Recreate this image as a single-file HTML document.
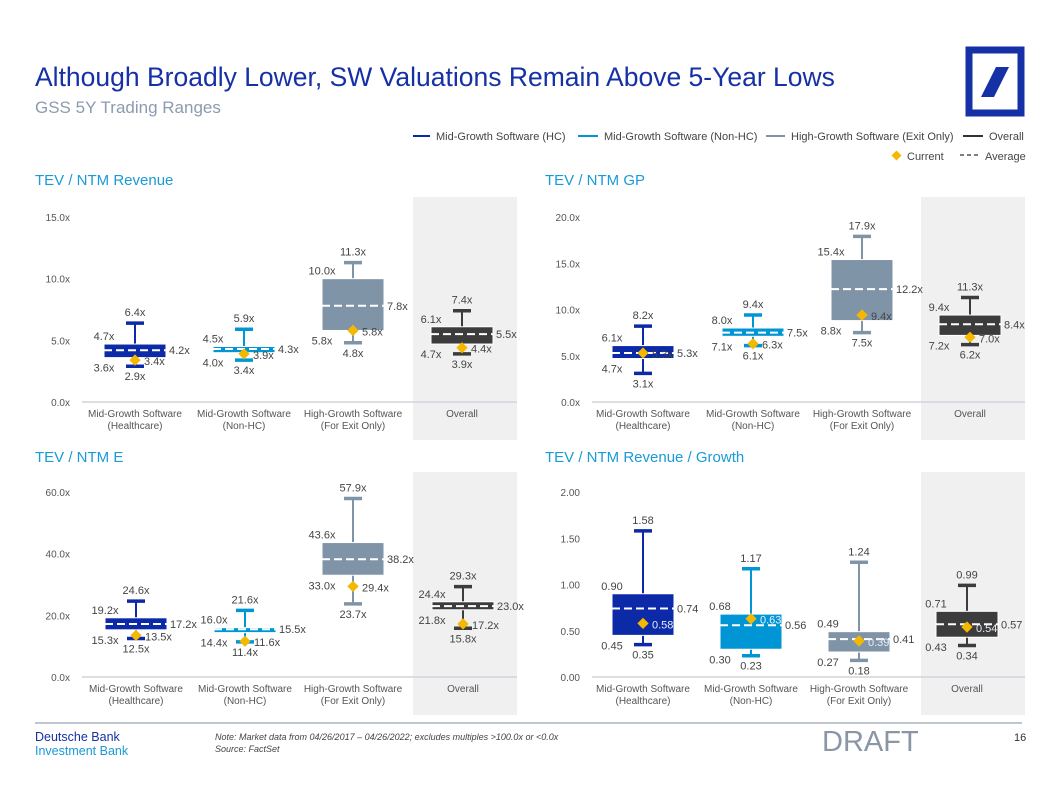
<!DOCTYPE html>
<html><head><meta charset="utf-8">
<style>
body{margin:0;background:#fff;width:1057px;height:796px;overflow:hidden;font-family:"Liberation Sans",sans-serif;}
svg{position:absolute;left:0;top:0}
</style></head>
<body>
<svg id="s" width="1057" height="796" xmlns="http://www.w3.org/2000/svg" font-family="Liberation Sans, sans-serif">
<text x="35" y="86" font-size="26.5" fill="#1630a5">Although Broadly Lower, SW Valuations Remain Above 5-Year Lows</text>
<text x="35" y="113" font-size="17" fill="#8c9bb0">GSS 5Y Trading Ranges</text>
<g>
<rect x="969" y="50" width="52" height="63" fill="none" stroke="#1630a5" stroke-width="7"/>
<polygon points="996,67 1009,67 994,97 981,97" fill="#1630a5"/>
</g>
<g font-size="11" fill="#444">
<line x1="413" y1="136" x2="430" y2="136" stroke="#0c2aa8" stroke-width="2"/><text x="436" y="140">Mid-Growth Software (HC)</text>
<line x1="578" y1="136" x2="598" y2="136" stroke="#0096d6" stroke-width="2"/><text x="604" y="140">Mid-Growth Software (Non-HC)</text>
<line x1="766" y1="136" x2="785" y2="136" stroke="#8094a8" stroke-width="2"/><text x="791" y="140">High-Growth Software (Exit Only)</text>
<line x1="963" y1="136" x2="983" y2="136" stroke="#333" stroke-width="2"/><text x="989" y="140">Overall</text>
<rect x="893" y="152" width="7" height="7" fill="#f5b800" transform="rotate(45 896.5 155.5)"/><text x="907" y="160">Current</text>
<line x1="960" y1="155" x2="980" y2="155" stroke="#555" stroke-width="1.5" stroke-dasharray="4,3"/><text x="985" y="160">Average</text>
</g>
<text x="35" y="185" font-size="15" fill="#1a9ad6">TEV / NTM Revenue</text>
<text x="545" y="185" font-size="15" fill="#1a9ad6">TEV / NTM GP</text>
<text x="35" y="462" font-size="15" fill="#1a9ad6">TEV / NTM E</text>
<text x="545" y="462" font-size="15" fill="#1a9ad6">TEV / NTM Revenue / Growth</text>
<g id="charts"></g>
<line x1="35" y1="723" x2="1022" y2="723" stroke="#a8b4c0" stroke-width="1.5"/>
<text x="35" y="741" font-size="12.5" fill="#1630a5">Deutsche Bank</text>
<text x="35" y="755" font-size="12.5" fill="#1a9ad6">Investment Bank</text>
<text x="215" y="740" font-size="9" font-style="italic" fill="#444">Note: Market data from 04/26/2017 – 04/26/2022; excludes multiples &gt;100.0x or &lt;0.0x</text>
<text x="215" y="752" font-size="9" font-style="italic" fill="#444">Source: FactSet</text>
<text x="822" y="751" font-size="29" fill="#8a96a4">DRAFT</text>
<text x="1014" y="741" font-size="11" fill="#333">16</text>
</svg>
<script>
const categories = [["Mid-Growth Software","(Healthcare)"],["Mid-Growth Software","(Non-HC)"],["High-Growth Software","(For Exit Only)"],["Overall",""]];
const revMax=[6.4,5.9,11.3,7.4], revQ3=[4.7,4.5,10.0,6.1], revAvg=[4.2,4.3,7.8,5.5], revQ1=[3.6,4.0,5.8,4.7], revMin=[2.9,3.4,4.8,3.9], revCur=[3.4,3.9,5.8,4.4];
const revTicks=[0,5,10,15];
const gpMax=[8.2,9.4,17.9,11.3], gpQ3=[6.1,8.0,15.4,9.4], gpAvg=[5.3,7.5,12.2,8.4], gpQ1=[4.7,7.1,8.8,7.2], gpMin=[3.1,6.1,7.5,6.2], gpCur=[5.3,6.3,9.4,7.0];
const gpTicks=[0,5,10,15,20];
const eMax=[24.6,21.6,57.9,29.3], eQ3=[19.2,16.0,43.6,24.4], eAvg=[17.2,15.5,38.2,23.0], eQ1=[15.3,14.4,33.0,21.8], eMin=[12.5,11.4,23.7,15.8], eCur=[13.5,11.6,29.4,17.2];
const eTicks=[0,20,40,60];
const gMax=[1.58,1.17,1.24,0.99], gQ3=[0.90,0.68,0.49,0.71], gAvg=[0.74,0.56,0.41,0.57], gQ1=[0.45,0.30,0.27,0.43], gMin=[0.35,0.23,0.18,0.34], gCur=[0.58,0.63,0.39,0.54];
const gTicks=[0,0.5,1,1.5,2];

const colors=["#0c2aa8","#0096d6","#8094a8","#3c3c3c"];
const NS="http://www.w3.org/2000/svg";
const root=document.getElementById('charts');
function mk(tag,attrs,parent){const e=document.createElementNS(NS,tag);for(const k in attrs)e.setAttribute(k,attrs[k]);parent.appendChild(e);return e;}
function txt(s,attrs,parent){const e=mk('text',attrs,parent);e.textContent=s;return e;}

function drawPanel(name,ox,top,bottom,ticks,mx,q3,av,q1,mn,cur,dec,suf,centers,whiteCur,bgx){
  const g=mk('g',{},root);
  
  
  const y0=top+22, y1=top+207;
  const vmax=ticks[ticks.length-1];
  const y=v=>y1-(v/vmax)*(y1-y0);
  const bg=mk('rect',{x:bgx,y:top+2,width:104,height:bottom-top-2,fill:'#f0f0f0'},g);
  
  
  const base=mk('line',{x1:ox+52,x2:bgx+104,y1:y1,y2:y1,stroke:'#d0d4dc','stroke-width':1.5},g);
  
  
  ticks.forEach(t=>{
    const tl=txt(t.toFixed(dec)+suf,{x:ox+40,y:y(t)+4,'font-size':10,fill:'#555','text-anchor':'end'},g);
    
    
  });
  const fmt=v=>v.toFixed(dec)+suf;
  for(let i=0;i<4;i++){
    const cx=ox+centers[i], w=62, L=cx-w/2, R=cx+w/2, c=colors[i];
    const bx=mk('g',{},g);
    
    
    mk('line',{x1:cx,x2:cx,y1:y(mx[i]),y2:y(mn[i]),stroke:c,'stroke-width':2},bx);
    mk('line',{x1:cx-9,x2:cx+9,y1:y(mx[i]),y2:y(mx[i]),stroke:c,'stroke-width':3.5},bx);
    mk('line',{x1:cx-9,x2:cx+9,y1:y(mn[i]),y2:y(mn[i]),stroke:c,'stroke-width':3.5},bx);
    mk('rect',{x:L,y:y(q3[i]),width:w,height:Math.max(3,y(q1[i])-y(q3[i])),fill:c,stroke:'#fff','stroke-width':1},bx);
    mk('line',{x1:L,x2:R,y1:y(av[i]),y2:y(av[i]),stroke:'#fff','stroke-width':2,'stroke-dasharray':'8,4'},bx);
    const d=mk('rect',{x:cx-4,y:y(cur[i])-4,width:8,height:8,fill:'#f5b800',transform:`rotate(45 ${cx} ${y(cur[i])})`},bx);
    
    
    const tc={'font-size':11,fill:'#444'};
    txt(fmt(mx[i]),Object.assign({x:cx,y:y(mx[i])-7,'text-anchor':'middle'},tc),bx);
    txt(fmt(q3[i]),Object.assign({x:L,y:y(q3[i])-4,'text-anchor':'middle'},tc),bx);
    txt(fmt(q1[i]),Object.assign({x:L,y:y(q1[i])+14,'text-anchor':'middle'},tc),bx);
    txt(fmt(mn[i]),Object.assign({x:cx,y:y(mn[i])+14,'text-anchor':'middle'},tc),bx);
    txt(fmt(av[i]),Object.assign({x:R+3,y:y(av[i])+4,'text-anchor':'start'},tc),bx);
    txt(fmt(cur[i]),{x:cx+9,y:y(cur[i])+5,'text-anchor':'start','font-size':11,fill:whiteCur?'#e8eef8':'#444'},bx);
    const cl=txt(categories[i][0],{x:cx,y:y1+15,'text-anchor':'middle','font-size':10,fill:'#555'},g);
    
    
    txt(categories[i][1],{x:cx,y:y1+27,'text-anchor':'middle','font-size':10,fill:'#555'},g);
  }
}
drawPanel('chart-tev-ntm-revenue',30,195,440,revTicks,revMax,revQ3,revAvg,revQ1,revMin,revCur,1,'x',[105,214,323,432],false,413);
drawPanel('chart-tev-ntm-gp',540,195,440,gpTicks,gpMax,gpQ3,gpAvg,gpQ1,gpMin,gpCur,1,'x',[103,213,322,430],false,921);
drawPanel('chart-tev-ntm-e',30,470,715,eTicks,eMax,eQ3,eAvg,eQ1,eMin,eCur,1,'x',[106,215,323,433],false,413);
drawPanel('chart-tev-ntm-revenue-growth',540,470,715,gTicks,gMax,gQ3,gAvg,gQ1,gMin,gCur,2,'',[103,211,319,427],true,921);
</script>
</body></html>
